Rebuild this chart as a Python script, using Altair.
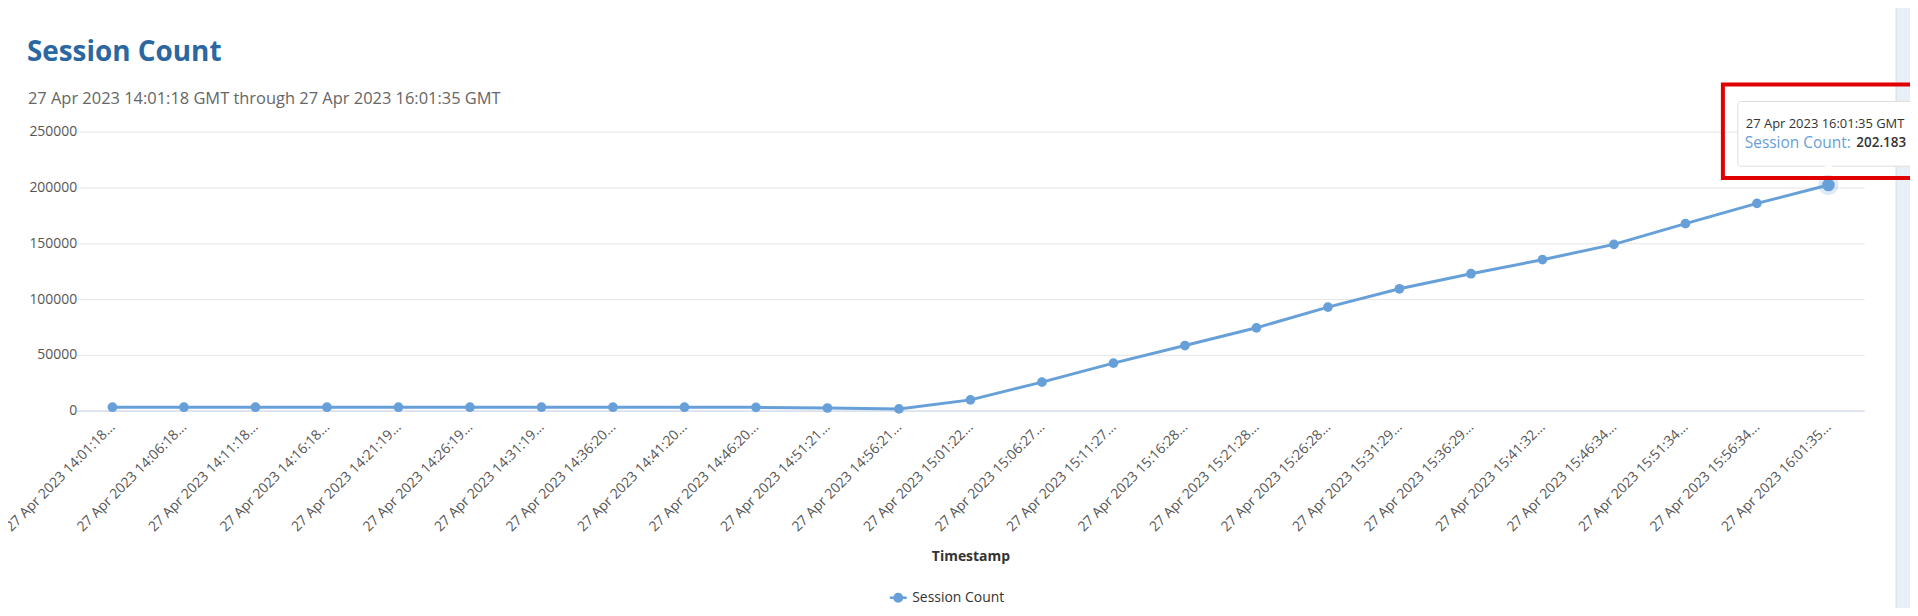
import altair as alt
import pandas as pd

# ---------------- data ----------------
timestamps = [
    "27 Apr 2023 14:01:18 GMT", "27 Apr 2023 14:06:18 GMT", "27 Apr 2023 14:11:18 GMT",
    "27 Apr 2023 14:16:18 GMT", "27 Apr 2023 14:21:19 GMT", "27 Apr 2023 14:26:19 GMT",
    "27 Apr 2023 14:31:19 GMT", "27 Apr 2023 14:36:20 GMT", "27 Apr 2023 14:41:20 GMT",
    "27 Apr 2023 14:46:20 GMT", "27 Apr 2023 14:51:21 GMT", "27 Apr 2023 14:56:21 GMT",
    "27 Apr 2023 15:01:22 GMT", "27 Apr 2023 15:06:27 GMT", "27 Apr 2023 15:11:27 GMT",
    "27 Apr 2023 15:16:28 GMT", "27 Apr 2023 15:21:28 GMT", "27 Apr 2023 15:26:28 GMT",
    "27 Apr 2023 15:31:29 GMT", "27 Apr 2023 15:36:29 GMT", "27 Apr 2023 15:41:32 GMT",
    "27 Apr 2023 15:46:34 GMT", "27 Apr 2023 15:51:34 GMT", "27 Apr 2023 15:56:34 GMT",
    "27 Apr 2023 16:01:35 GMT",
]
session_counts = [
    3000, 3000, 3000, 3000, 3000, 3000, 3000, 3000, 3000, 2900,
    2300, 1500, 9600, 25500, 42500, 58300, 74200, 92800, 109200,
    122700, 135300, 149000, 167600, 185800, 202183,
]
series_name = "Session Count"
y_ticks = [0, 50000, 100000, 150000, 200000, 250000]
title_text = "Session Count"
subtitle_text = "27 Apr 2023 14:01:18 GMT through 27 Apr 2023 16:01:35 GMT"

# ---------------- styling ----------------
LINE = "#67a0d9"
FONT = "Open Sans"
TXT = "#555555"

df = pd.DataFrame({"Timestamp": timestamps, "value": session_counts, "series": series_name})
last = df.tail(1).copy()
chrome = pd.DataFrame({"k": [0]})

x_enc = alt.X(
    "Timestamp:O",
    sort=None,
    scale=alt.Scale(type="point", padding=0.5),
    axis=alt.Axis(
        title="Timestamp",
        labelAngle=-45,
        labelAlign="right",
        labelBaseline="middle",
        labelPadding=14,
        labelExpr="slice(datum.label, 0, 20) + '...'",
        labelFontSize=14,
        labelColor=TXT,
        labelOverlap=False,
        ticks=False,
        grid=False,
        domainColor="#ccd6eb",
        titleFontSize=14,
        titleFontWeight="bold",
        titleColor="#333333",
        titlePadding=16,
    ),
)
y_enc = alt.Y(
    "value:Q",
    scale=alt.Scale(domain=[0, 250000], nice=False),
    axis=alt.Axis(
        title=None,
        values=y_ticks,
        format="d",
        domain=False,
        ticks=False,
        labelPadding=0,
        labelFontSize=14,
        labelColor=TXT,
        gridColor="#e6e6e6",
    ),
)

base = alt.Chart(df).encode(x=x_enc, y=y_enc)

legend_symbol = "M-1,0L1,0M-0.45,0A0.45,0.45,0,1,1,0.45,0A0.45,0.45,0,1,1,-0.45,0Z"

line = base.mark_line(strokeWidth=3).encode(
    color=alt.Color(
        "series:N",
        scale=alt.Scale(range=[LINE]),
        legend=alt.Legend(
            title=None,
            orient="none",
            legendX=815,
            legendY=458,
            padding=0,
            symbolType=legend_symbol,
            symbolSize=289,
            symbolStrokeWidth=2.5,
            symbolFillColor=LINE,
            symbolStrokeColor=LINE,
            labelFontSize=14,
            labelColor="#333333",
            labelFont=FONT,
        ),
    )
)
points = base.mark_point(filled=True, size=95, opacity=1, color=LINE)

last_base = alt.Chart(last).encode(x=x_enc, y=y_enc)
halo = last_base.mark_point(filled=True, size=420, opacity=0.22, color=LINE)
last_pt = last_base.mark_point(filled=True, size=160, opacity=1, color=LINE)

# page chrome: scrollbar strip at the right edge
strip = alt.Chart(chrome).mark_rect(color="#e9eff7", stroke="#d3dbe6", strokeWidth=1).encode(
    x=alt.value(1827), x2=alt.value(1850), y=alt.value(-140), y2=alt.value(480)
)

# title and subtitle
title_mark = alt.Chart(chrome).mark_text(
    align="left", baseline="alphabetic", font=FONT, fontSize=28, fontWeight="bold", color="#2b67a0"
).encode(x=alt.value(-50), y=alt.value(-71), text=alt.value(title_text))
subtitle_mark = alt.Chart(chrome).mark_text(
    align="left", baseline="alphabetic", font=FONT, fontSize=16.5, color="#666666"
).encode(x=alt.value(-49), y=alt.value(-28), text=alt.value(subtitle_text))

# hover tooltip on the last point
tip_enc = dict(
    x=alt.X("Timestamp:O", sort=None),
    x2="Timestamp",
    y=alt.Y("value:Q"),
    y2="value",
)
tip_box = alt.Chart(last).mark_rect(
    fill="white", stroke="#dddddd", strokeWidth=1, cornerRadius=3,
    xOffset=-91, x2Offset=110, yOffset=-84, y2Offset=-19,
).encode(**tip_enc)
tip_ptr = last_base.mark_point(
    shape="triangle-down", filled=True, size=70, color="white", yOffset=-16, opacity=1
)
red_box = alt.Chart(last).mark_rect(
    fill="transparent", stroke="#e00000", strokeWidth=4,
    xOffset=-106, x2Offset=110, yOffset=-101, y2Offset=-7,
).encode(**tip_enc)

tip_time = last_base.mark_text(
    align="left", baseline="middle", dx=-83, dy=-61, font=FONT, fontSize=13, color="#333333"
).encode(text="Timestamp:N")
tip_label = last_base.mark_text(
    align="left", baseline="middle", dx=-84, dy=-42, font=FONT, fontSize=15.5, color=LINE
).transform_calculate(lbl="datum.series + ':'").encode(text="lbl:N")
tip_value = last_base.mark_text(
    align="left", baseline="middle", dx=28, dy=-42, font=FONT, fontSize=13.5,
    fontWeight=600, color="#333333",
).transform_calculate(v="replace(format(datum.value, ','), ',', '.')").encode(text="v:N")

chart = (
    alt.layer(
        strip, title_mark, subtitle_mark, line, points, halo, last_pt,
        tip_box, tip_ptr, tip_time, tip_label, tip_value, red_box,
    )
    .properties(
        width=1795,
        height=280,
        padding={"left": 69, "top": 123, "right": 46, "bottom": 197},
        autosize=alt.AutoSizeParams(type="none"),
    )
    .configure_view(stroke=None)
    .configure_axis(labelFont=FONT, titleFont=FONT)
)

chart.save("out.html", embed_options={"renderer": "svg", "actions": False})
